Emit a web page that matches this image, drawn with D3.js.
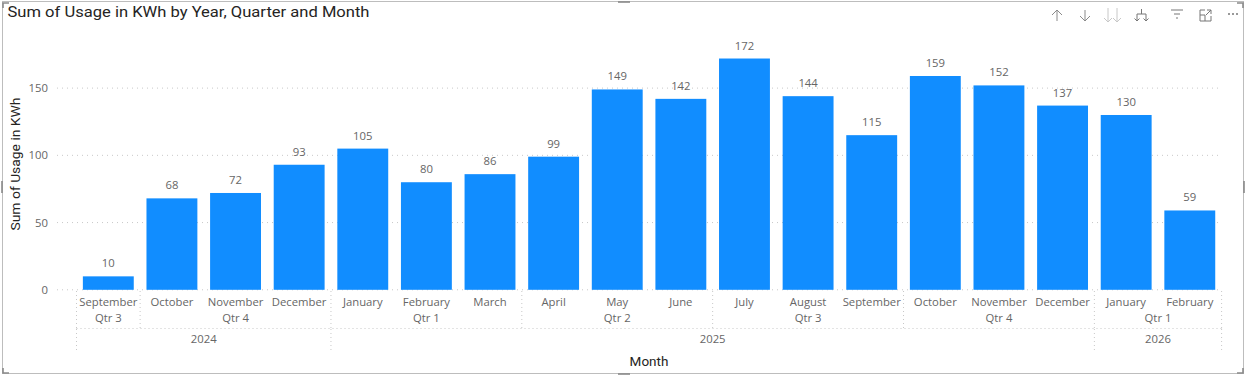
<!DOCTYPE html>
<html><head><meta charset="utf-8">
<style>html,body{margin:0;padding:0;background:#fff;overflow:hidden}svg{display:block}
text{font-family:"Open Sans","Noto Sans",sans-serif}</style>
<script src="https://cdn.jsdelivr.net/npm/d3@7"></script></head><body>
<svg id="c" width="1246" height="376"></svg>
<script>
const months=["September","October","November","December","January","February","March","April","May","June","July","August","September","October","November","December","January","February"];
const values=[10,68,72,93,105,80,86,99,149,142,172,144,115,159,152,137,130,59];
const quarters=["Qtr 3","Qtr 4","Qtr 1","Qtr 2","Qtr 3","Qtr 4","Qtr 1"];
const quarterSpans=[1,3,3,3,3,3,2];
const years=["2024","2025","2026"];
const yearSpans=[4,12,2];
const yTicks=[0,50,100,150];
const title="Sum of Usage in KWh by Year, Quarter and Month";
const xTitle="Month", yTitle="Sum of Usage in KWh";
const barBlue="#118DFF", textGray="#666666", dotGray="#c8c8c8";

const svg=d3.select("#c");
const x=d3.scaleBand().domain(d3.range(months.length)).range([76.5,1221.6]).paddingInner(0.2).paddingOuter(0.1);
const y=d3.scaleLinear().domain([0,150]).range([289.8,88.1]);
const x0=i=>76.5+i*(1221.6-76.5)/months.length;

// frame
svg.append("rect").attr("x",2.5).attr("y",1.5).attr("width",1241).attr("height",372).attr("fill","none").attr("stroke","#bdbdbd").attr("stroke-width",1);
const hp=[["M3 8V3H9"],["M1243 8V3H1237"],["M3 368V373H9"],["M1243 368V373H1237"],["M618 2H630"],["M618 374H630"],["M2 181V193"],["M1244 181V193"]];
svg.selectAll("path.h").data(hp).join("path").attr("class","h").attr("d",d=>d[0]).attr("fill","none").attr("stroke","#8a8a8a").attr("stroke-width",1.6);

// title
svg.append("text").attr("x",7.5).attr("y",17).attr("font-size",15.5).attr("fill","#252423").attr("textLength",362).attr("lengthAdjust","spacingAndGlyphs").style("font-family","Roboto").text(title);

// grid
svg.selectAll("line.g").data(yTicks).join("line").attr("class","g").attr("x1",57).attr("x2",1222).attr("y1",d=>y(d)).attr("y2",d=>y(d)).attr("stroke",dotGray).attr("stroke-dasharray","1 4");
svg.selectAll("text.yt").data(yTicks).join("text").attr("class","yt").attr("x",48).attr("y",d=>y(d)+4).attr("text-anchor","end").attr("font-size",11.3).attr("fill",textGray).text(d=>d);
svg.append("text").attr("transform","translate(20,164) rotate(-90)").attr("text-anchor","middle").attr("font-size",13.5).attr("fill","#252423").attr("textLength",133).attr("lengthAdjust","spacingAndGlyphs").style("font-family","Roboto").text(yTitle);

// bars
svg.selectAll("rect.b").data(values).join("rect").attr("class","b").attr("x",(d,i)=>x(i)).attr("width",x.bandwidth()).attr("y",d=>y(d)).attr("height",d=>y(0)-y(d)).attr("fill",barBlue);
svg.selectAll("text.v").data(values).join("text").attr("class","v").attr("x",(d,i)=>x(i)+x.bandwidth()/2).attr("y",d=>y(d)-9).attr("text-anchor","middle").attr("font-size",11.3).attr("fill",textGray).text(d=>d);

// month labels
svg.selectAll("text.m").data(months).join("text").attr("class","m").attr("x",(d,i)=>x(i)+x.bandwidth()/2).attr("y",306).attr("text-anchor","middle").attr("font-size",11.3).attr("fill",textGray).text(d=>d);

// hierarchical labels + separators
function spans(lens){let s=0;return lens.map(n=>{const a=s;s+=n;return [a,s];});}
const vline=(v,y1,y2)=>svg.append("line").attr("x1",v).attr("x2",v).attr("y1",y1).attr("y2",y2).attr("stroke",dotGray).attr("stroke-dasharray","1 3");
spans(quarterSpans).forEach(([a,b],i)=>{
  svg.append("text").attr("x",(x0(a)+x0(b))/2).attr("y",322).attr("text-anchor","middle").attr("font-size",11.3).attr("fill",textGray).text(quarters[i]);
  vline(x0(a),291,328);
});
vline(x0(months.length),291,328);
spans(yearSpans).forEach(([a,b],i)=>{
  svg.append("text").attr("x",(x0(a)+x0(b))/2).attr("y",343).attr("text-anchor","middle").attr("font-size",11.3).attr("fill",textGray).text(years[i]);
  vline(x0(a),329,350);
});
vline(x0(months.length),329,350);
svg.append("line").attr("x1",76.5).attr("x2",1222).attr("y1",328.5).attr("y2",328.5).attr("stroke",dotGray).attr("stroke-dasharray","1 3");

svg.append("text").attr("x",649).attr("y",366).attr("text-anchor","middle").attr("font-size",13.5).attr("fill","#252423").style("font-family","Roboto").text(xTitle);

// toolbar icons
const icons=[
 ["M1057 21V10M1052 15L1057 10L1062 15","#8a8a8a"],
 ["M1085 10V21M1080 16L1085 21L1090 16","#8a8a8a"],
 ["M1108 8V22M1104 18L1108 22L1112 18M1117 8V22M1113 18L1117 22L1121 18","#c8c8c8"],
 ["M1137 21V14H1146V21M1141.5 9V14M1134.5 18.5L1137 21L1139.5 18.5M1143.5 18.5L1146 21L1148.5 18.5","#777777"],
 ["M1171 10H1183M1174 14H1180M1176 18H1178","#777777"],
 ["M1205 10H1200V21H1211V16M1205 15H1200M1205 15V21M1206 15L1211 10M1207 10H1211V14","#777777"],
];
svg.selectAll("path.i").data(icons).join("path").attr("class","i").attr("d",d=>d[0]).attr("fill","none").attr("stroke",d=>d[1]).attr("stroke-width",1);
svg.selectAll("circle.d").data([1229,1233,1237]).join("circle").attr("class","d").attr("cx",d=>d).attr("cy",14).attr("r",1).attr("fill","#777777");
</script></body></html>
